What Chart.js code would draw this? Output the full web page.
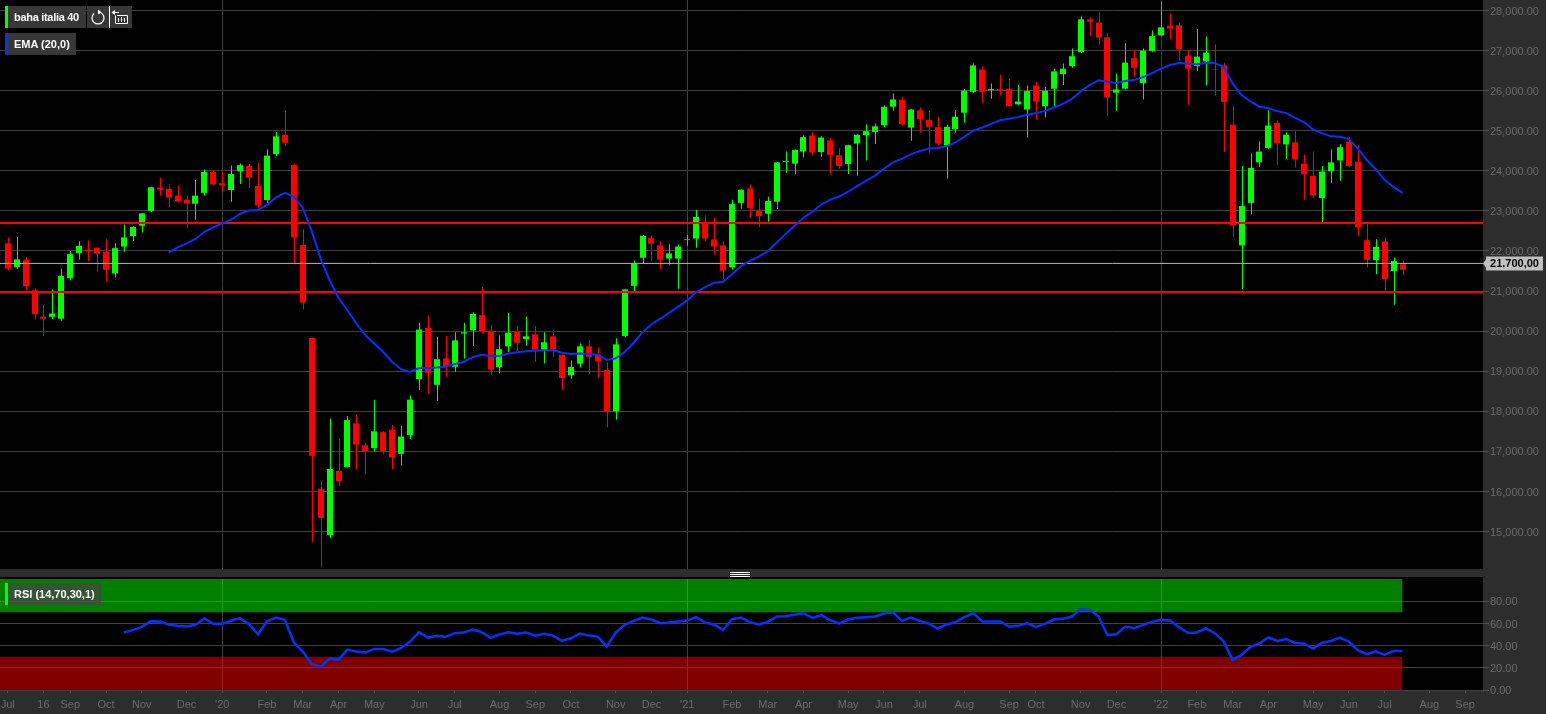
<!DOCTYPE html>
<html>
<head>
<meta charset="utf-8">
<title>baha italia 40</title>
<script src="https://cdn.jsdelivr.net/npm/chart.js@4"></script>
<style>
    html, body { margin: 0; padding: 0; width: 1546px; height: 714px; overflow: hidden; background: #2d2d2d; }
    body { position: relative; font-family: "Liberation Sans", Arial, sans-serif; }
    canvas { position: absolute; left: 0; display: block; }
    #priceChart { top: 0; }
    #rsiChart { top: 579px; }
    #blackGap { position: absolute; left: 0; top: 577px; width: 1483px; height: 2px; background: #000; }
    #handle { position: absolute; left: 730px; top: 572px; width: 20px; height: 5px; border-top: 1px solid #fff; border-bottom: 1px solid #fff; box-sizing: border-box; }
    #handle::after { content: ''; position: absolute; left: 0; top: 1px; width: 100%; height: 1px; background: #fff; }
    .chip { position: absolute; height: 22px; line-height: 22px; background: rgba(60, 60, 60, 0.92); color: #fff; font-size: 11px; font-weight: bold; padding-left: 9px; box-sizing: border-box; white-space: nowrap; }
    .chip::before { content: ''; position: absolute; left: 0; top: 0; width: 3px; height: 22px; background: var(--mark); }
    .iconBtn { position: absolute; top: 6px; width: 22px; height: 22px; background: rgba(60, 60, 60, 0.92); }
    .iconBtn svg { display: block; }
</style>
</head>
<body>
<canvas id="priceChart" width="1546" height="569"></canvas>
<div id="blackGap"></div>
<div id="handle"></div>
<canvas id="rsiChart" width="1546" height="135"></canvas>

<div class="chip" style="left:5px;top:6px;width:81px;letter-spacing:-0.3px;--mark:#00ff00">baha italia 40</div>
<div class="iconBtn" style="left:87px">
    <svg width="22" height="22" viewBox="0 0 22 22" fill="none" stroke="#fff" stroke-width="1.2">
        <path d="M13.5 6.5 A6 6 0 1 1 7 7.5"/><path d="M11 3.5 L14.5 6.2 L11 8.5" fill="#fff" stroke="none"/>
    </svg>
</div>
<div class="iconBtn" style="left:109px;border-left:1px solid #fff;box-sizing:border-box;width:23px">
    <svg width="22" height="22" viewBox="0 0 22 22" fill="none" stroke="#fff" stroke-width="1">
        <path d="M5.5 9.5 V17.5 H17.5 V9.5 H7"/><path d="M8.5 12 V16 M11.5 11 V16 M14.5 12 V16"/><path d="M4 6.5 H9"/><path d="M1.5 6.5 L5 4 V9 Z" fill="#fff" stroke="none"/>
    </svg>
</div>
<div class="chip" style="left:5px;top:33px;width:71px;--mark:#0033ff">EMA (20,0)</div>
<div class="chip" style="left:5px;top:583px;width:96px;--mark:#00ff00;background:rgba(70,70,70,0.75)">RSI (14,70,30,1)</div>

<script>
// --- Data ---

// Weekly candles
const opens = [
    22190,21600,21780,21020,20360,20360,20310,21320,21950,22030,
    22080,21980,21440,22110,22370,22630,23000,23580,23550,23380,
    23280,23180,23450,23970,23690,23520,23990,24120,23620,23270,
    24420,24900,24150,22150,19830,16070,14910,16510,16610,17700,
    17150,17080,17480,17540,16940,17410,18800,20080,18660,19320,
    19110,19940,20020,20400,20010,19100,19620,19980,19800,19920,
    19540,19870,19410,18900,19190,19620,19420,19030,18000,19880,
    21130,21830,22320,22140,21810,21810,22270,22310,22730,22290,
    22140,21590,23200,23560,23010,22930,23230,24220,24180,24480,
    24880,24470,24760,24390,24170,24680,24890,24970,25140,25600,
    25770,25080,25510,25270,25090,24640,25040,25450,25970,26530,
    26010,26040,26050,25660,25530,26130,25610,26050,26410,26610,
    26960,27780,27700,27330,25950,26050,26810,26190,26990,27380,
    27620,27630,26870,26610,26730,26540,26630,25150,22140,23200,
    24210,24570,25200,24660,24710,24180,23870,23320,23990,24260,
    24720,24230,22270,21770,22240,21500,21670
];
const highs = [
    22340,22350,21850,21060,20650,21040,21560,22000,22240,22270,
    22090,22290,22190,22660,22620,22950,23600,23830,23670,23630,
    23380,23770,24030,24010,23960,24130,24180,24170,24210,24530,
    24970,25510,24180,22540,19840,16260,17820,17320,17880,17920,
    17220,18290,17500,17660,17640,18390,20210,20390,19860,19880,
    19970,20210,20470,21100,20160,19890,20460,20130,20360,20130,
    19970,20040,19420,19270,19690,19770,19590,19220,19820,21050,
    21760,22400,22380,22240,22170,22160,22400,23020,22890,22830,
    22240,23280,23540,23660,23310,23360,24220,24480,24530,24880,
    24960,24860,24810,24560,24650,24910,25160,25180,25630,25930,
    25850,25540,25580,25500,25350,25150,25520,26050,26680,26610,
    26180,26400,26300,26150,26130,26220,26100,26550,26680,27050,
    27870,27830,27970,27430,26430,27180,27030,27050,27500,28220,
    27910,27690,27030,27540,27350,27150,26690,25620,24120,24430,
    24730,25510,25260,24960,24990,24410,24480,24120,24530,24660,
    24830,24640,22690,22290,22340,21840,21760
];
const lows = [
    21520,21545,21020,20290,19880,20300,20260,21270,21790,21750,
    21480,21230,21340,21980,22250,22460,22970,23380,23100,23210,
    22580,22780,23380,23640,23480,23230,23670,23570,23060,23200,
    24370,24620,21690,20540,14730,14100,14830,16130,16600,16550,
    16420,17000,16920,16550,16650,17300,18530,18440,18260,18860,
    18980,19320,19630,19940,18920,18940,19480,19500,19650,19240,
    19190,19360,18530,18810,19090,18930,18840,17600,17790,19850,
    21000,21690,21750,21550,21660,21060,22130,22080,22230,21910,
    21300,21540,23060,22830,22600,22730,23050,23950,23910,24330,
    24410,24350,23910,24050,23920,23870,24260,24670,25090,25500,
    25130,24750,24950,24450,24640,23810,24950,25200,25950,25700,
    25800,25880,25610,25650,24830,25280,25330,25600,26140,26570,
    26940,27370,27150,25370,25500,26030,26350,25780,26970,27370,
    27280,26750,25650,26490,26130,25870,24470,22340,21050,22910,
    24100,24540,24150,24300,24080,23280,23330,22720,23700,23750,
    24080,22380,21590,21420,21010,20660,21400
];
const closes = [
    21560,21790,21120,20420,20310,20440,21380,21920,22130,22000,
    21930,21530,22070,22340,22600,22940,23590,23530,23340,23240,
    23190,23380,23970,23660,23640,23920,24140,23830,23140,24380,
    24860,24700,22340,20710,16890,15340,16560,16260,17780,17170,
    16990,17500,17000,16850,17370,18290,20040,18960,19300,19130,
    19770,19970,20430,20000,19040,19550,19960,19710,19870,19540,
    19720,19540,18830,19110,19620,19360,19240,17990,19670,21040,
    21680,22380,22180,21780,21940,22110,22290,22850,22310,22110,
    21510,23170,23530,23070,22870,23250,24210,24240,24520,24840,
    24460,24830,24400,24120,24640,24900,24990,25110,25600,25780,
    25160,25530,25290,25100,24680,25100,25350,26000,26630,25970,
    26040,26010,25610,25730,25990,25730,26000,26480,26550,26860,
    27780,27720,27330,25840,26030,26700,26570,27000,27360,27580,
    27550,27040,26550,26850,26950,26530,25720,22640,23120,24070,
    24480,25130,24690,24900,24290,23920,23390,23980,24210,24590,
    24120,22590,21780,22100,21300,21750,21530
];

// EMA (20,0), first value sits on candle 18
const emaStart = 18;
const emaValues = [
    21960,22090,22190,22300,22480,22590,22690,22780,22930,23010,
    23020,23150,23330,23450,23350,23080,22500,21810,21270,20830,
    20520,20190,19900,19690,19480,19230,19050,18980,19080,19080,
    19090,19110,19180,19230,19350,19410,19380,19380,19440,19470,
    19500,19510,19520,19520,19460,19430,19440,19430,19410,19280,
    19320,19480,19710,19970,20170,20310,20460,20610,20770,20970,
    21100,21210,21230,21420,21620,21750,21860,21990,22210,22420,
    22630,22830,22980,23160,23280,23360,23480,23620,23750,23880,
    24050,24210,24300,24410,24490,24560,24570,24610,24710,24850,
    25000,25080,25170,25260,25300,25340,25400,25440,25490,25580,
    25670,25790,25980,26140,26260,26220,26190,26240,26270,26340,
    26440,26550,26640,26690,26680,26660,26690,26690,26590,26180,
    25890,25730,25600,25560,25490,25440,25320,25210,25030,24940,
    24860,24850,24790,24560,24270,24040,23770,23600,23450
];

// RSI (14,70,30,1), first value sits on candle 13
const rsiStart = 13;
const rsiValues = [
    51.8,53.9,56.9,62,61.7,59,57.8,57.2,58.7,64.4,
    59.6,59.6,62.6,64.7,59.3,50.3,62,65.3,63.2,43,
    34.6,23.5,20.8,28.3,27.4,36.4,34.6,33.7,37,37,
    34.6,37.9,43.6,52.1,47.2,48.8,47.9,51.2,51.8,54.5,
    52.1,47,50,52.1,50.6,51.8,49,50.6,49,44.2,
    46.6,50.9,49,48.1,39.1,51.8,58.7,62.3,65.3,63.5,
    60.2,60.8,61.7,62.6,65.6,60.8,59,53.9,63.8,65.3,
    61.1,59,61.4,66.2,66.5,67.7,69.2,65,67.4,62.9,
    59.9,63.5,65,65.6,66.2,68.9,70.1,62.3,65.3,62.3,
    59.9,55.4,59,61.1,65.6,69.2,61.7,61.7,61.7,57.2,
    57.8,60.2,56.9,59.6,63.5,64.1,66.2,72.8,72.2,66.2,
    49.6,50.3,57.2,55.7,58.7,61.4,63.2,62.6,56.6,51.5,
    51.8,55.4,51.2,43.6,27.1,31.6,38.8,42.1,47.3,44.2,
    46,42.4,41.8,37.3,42.7,44.2,47.3,43.6,35.8,32.2,
    34.9,31.6,35.2,35.2
];

// Axis ticks
const timeTickIndex = [0,4,7,11,15,20,24,29,33,37,41,46,50,55,59,63,68,72,76,81,85,89,94,98,102,107,112,115,120,124,129,133,137,141,146,150,154,159,163];
const timeTickLabels = ['Jul','16','Sep','Oct','Nov','Dec',"'20",'Feb','Mar','Apr','May','Jun','Jul','Aug','Sep','Oct','Nov','Dec',"'21",'Feb','Mar','Apr','May','Jun','Jul','Aug','Sep','Oct','Nov','Dec',"'22",'Feb','Mar','Apr','May','Jun','Jul','Aug','Sep'];
const priceTicks = [15000,16000,17000,18000,19000,20000,21000,22000,23000,24000,25000,26000,27000,28000];
const rsiTicks = [0,20,40,60,80];

// Levels
const supportLevels = [22698, 20977];
const lastPrice = 21690;
const lastPriceLabel = '21.700,00';
const rsiUpperBand = [70, 100];
const rsiLowerBand = [0, 30];

// --- View range and colours ---
const xMin = -0.861, xMax = 165;
const yMin = 14065, yMax = 28262;
const GREEN = '#00ff00', RED = '#ff0000', BLUE = '#0033ff';
const GRID = '#404040', AXIS_TEXT = '#6c6c6c', PANEL = '#2d2d2d';
const axisFont = { family: '"Liberation Sans", Arial, sans-serif', size: 11 };
// Small lineHeight plus an empty first line puts value labels a pixel under the grid line
const valueFont = { ...axisFont, lineHeight: 0.2 };

const candleColor = opens.map((o, i) => closes[i] >= o ? GREEN : RED);
const horizontal = (y, xEnd = xMax) => [{ x: xMin, y }, { x: xEnd, y }];

// Tick labels may hang over the plot edges, the plot must still fill the canvas
const noScalePadding = scale => {
    scale.paddingTop = scale.paddingBottom = scale.paddingLeft = scale.paddingRight = 0;
};

// --- Plugins ---

// Black plot area on the grey panel
const plotBackground = {
    id: 'plotBackground',
    beforeDraw(chart) {
        const { ctx, chartArea: a } = chart;
        ctx.save();
        ctx.fillStyle = PANEL;
        ctx.fillRect(0, 0, chart.width, chart.height);
        ctx.fillStyle = '#000';
        ctx.fillRect(a.left, a.top, a.width, a.height);
        ctx.restore();
    }
};

// Puts candle bars on whole pixels so that the wicks stay 1px and sharp
const snapCandles = {
    id: 'snapCandles',
    afterDatasetsUpdate(chart) {
        chart.data.datasets.forEach((ds, i) => {
            if (ds.type !== 'bar') return;
            chart.getDatasetMeta(i).data.forEach(bar => {
                bar.x = Math.round(bar.x) + (ds.barThickness % 2 ? 0.5 : 0);
            });
        });
    }
};

// Last price tag on the axis
const lastPriceTag = {
    id: 'lastPriceTag',
    afterDraw(chart) {
        const { ctx } = chart;
        const y = Math.round(chart.scales.y.getPixelForValue(lastPrice)) + 0.5;
        ctx.save();
        ctx.fillStyle = '#c0c0c0';
        ctx.beginPath();
        ctx.moveTo(1483, y);
        ctx.lineTo(1486, y - 4);
        ctx.lineTo(1486, y - 7);
        ctx.lineTo(1543, y - 7);
        ctx.lineTo(1543, y + 7);
        ctx.lineTo(1486, y + 7);
        ctx.lineTo(1486, y + 4);
        ctx.closePath();
        ctx.fill();
        ctx.fillStyle = '#000';
        ctx.font = 'bold 11px "Liberation Sans", Arial, sans-serif';
        ctx.textAlign = 'center';
        ctx.textBaseline = 'middle';
        ctx.fillText(lastPriceLabel, 1514.5, y + 0.5);
        ctx.restore();
    }
};

// --- Shared time axis ---
const timeAxis = (showLabels) => ({
    type: 'linear',
    min: xMin,
    max: xMax,
    offset: false,
    afterBuildTicks: scale => { scale.ticks = timeTickIndex.map(value => ({ value })); },
    afterFit: scale => { scale.height = showLabels ? 24 : 0; noScalePadding(scale); },
    border: { display: false },
    grid: {
        offset: false,
        color: ctx => ctx.tick && String(timeTickLabels[timeTickIndex.indexOf(ctx.tick.value)]).startsWith("'") ? GRID : 'transparent',
        tickColor: showLabels ? '#555' : 'transparent',
        drawTicks: showLabels,
        tickLength: 3
    },
    ticks: {
        display: showLabels,
        autoSkip: false,
        maxRotation: 0,
        padding: 5,
        color: AXIS_TEXT,
        font: axisFont,
        callback: value => timeTickLabels[timeTickIndex.indexOf(value)]
    }
});

const valueAxis = (extra) => ({
    type: 'linear',
    position: 'right',
    afterFit: scale => { scale.width = 63; noScalePadding(scale); },
    border: { display: false },
    grid: { color: GRID, tickColor: '#555', tickLength: 6 },
    ...extra
});

const baseOptions = {
    responsive: false,
    devicePixelRatio: 1,
    animation: false,
    events: [],
    layout: { padding: 0 },
    plugins: { legend: { display: false }, tooltip: { enabled: false } }
};

// --- Price chart ---
new Chart(document.getElementById('priceChart'), {
    type: 'bar',
    data: {
        datasets: [
            {
                type: 'line', label: 'EMA (20,0)', order: 1,
                data: emaValues.map((y, i) => ({ x: i + emaStart, y })),
                borderColor: BLUE, borderWidth: 2, pointRadius: 0, tension: 0
            },
            ...supportLevels.map(level => ({
                type: 'line', order: 2,
                data: horizontal(level),
                borderColor: RED, borderWidth: 2, pointRadius: 0
            })),
            {
                type: 'line', order: 3,
                data: horizontal(lastPrice),
                borderColor: '#b8b8b8', borderWidth: 1, pointRadius: 0
            },
            {
                type: 'bar', label: 'body', order: 4, grouped: false,
                data: opens.map((o, i) => ({ x: i, y: [o, closes[i]] })),
                backgroundColor: candleColor, barThickness: 6, inflateAmount: 0
            },
            {
                type: 'bar', label: 'wick', order: 5, grouped: false,
                data: lows.map((l, i) => ({ x: i, y: [l, highs[i]] })),
                backgroundColor: candleColor, barThickness: 1, inflateAmount: 0
            }
        ]
    },
    options: {
        ...baseOptions,
        scales: {
            x: timeAxis(false),
            y: valueAxis({
                min: yMin,
                max: yMax,
                afterBuildTicks: scale => { scale.ticks = priceTicks.map(value => ({ value })); },
                ticks: {
                    color: AXIS_TEXT, font: valueFont, padding: 1,
                    callback: v => ['', v.toLocaleString('en-US', { minimumFractionDigits: 2 })]
                }
            })
        }
    },
    plugins: [plotBackground, snapCandles, lastPriceTag]
});

// --- RSI chart ---
const lastIndex = opens.length - 1;
new Chart(document.getElementById('rsiChart'), {
    type: 'line',
    data: {
        datasets: [
            {
                label: 'RSI', order: 1,
                data: rsiValues.map((y, i) => ({ x: i + rsiStart, y })),
                borderColor: BLUE, borderWidth: 2.5, pointRadius: 0, tension: 0
            },
            {
                order: 2,
                data: horizontal(rsiUpperBand[1], lastIndex),
                borderWidth: 0, pointRadius: 0,
                fill: { value: rsiUpperBand[0] }, backgroundColor: 'rgba(0, 255, 0, 0.5)'
            },
            {
                order: 3,
                data: horizontal(rsiLowerBand[1], lastIndex),
                borderWidth: 0, pointRadius: 0,
                fill: { value: rsiLowerBand[0] }, backgroundColor: 'rgba(255, 0, 0, 0.5)'
            }
        ]
    },
    options: {
        ...baseOptions,
        scales: {
            x: timeAxis(true),
            y: valueAxis({
                min: 0,
                max: 100,
                afterBuildTicks: scale => { scale.ticks = rsiTicks.map(value => ({ value })); },
                ticks: {
                    color: AXIS_TEXT, font: valueFont, padding: 1,
                    callback: v => ['', v.toFixed(2)]
                }
            })
        }
    },
    plugins: [plotBackground]
});
</script>
</body>
</html>
